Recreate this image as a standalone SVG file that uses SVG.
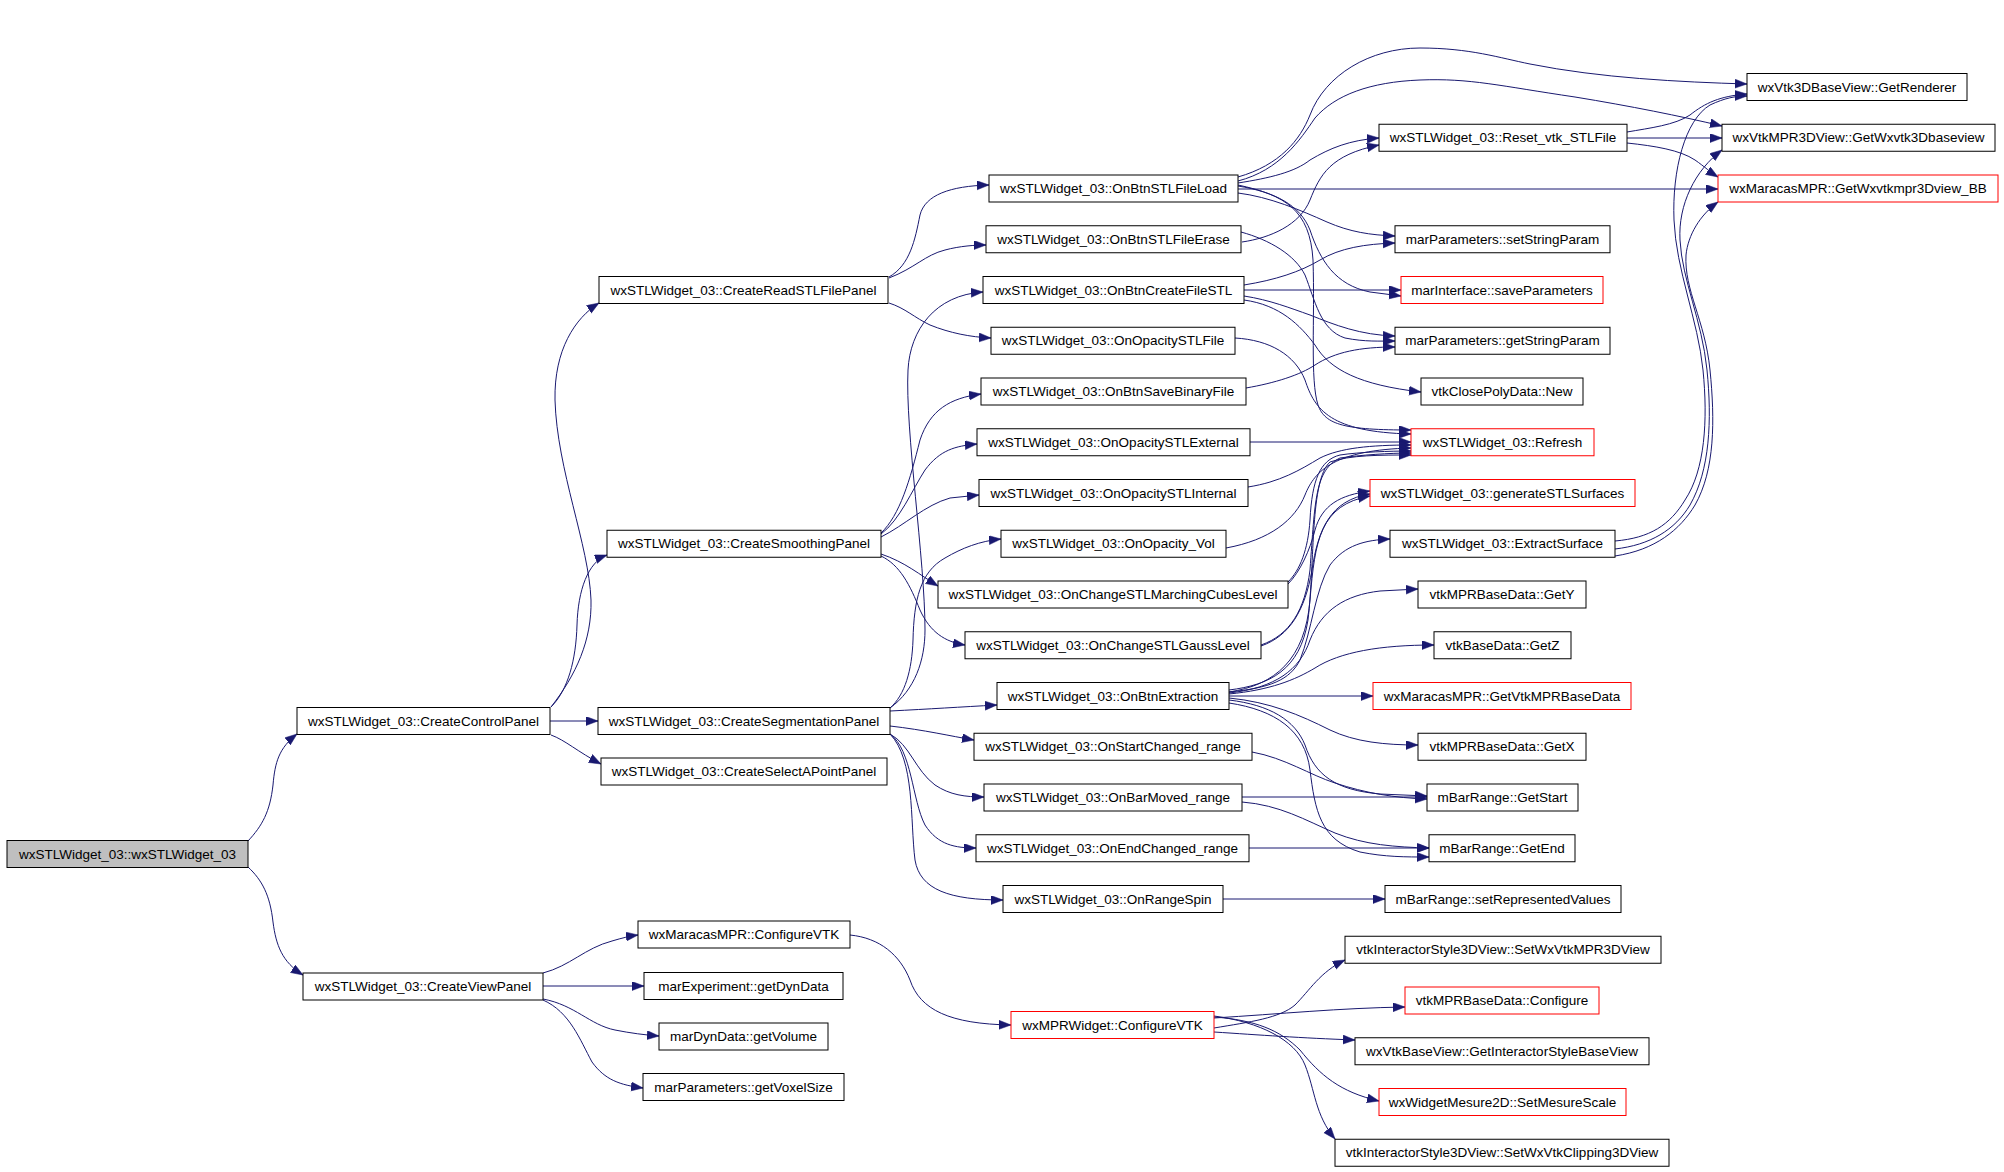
<svg xmlns="http://www.w3.org/2000/svg" width="2004" height="1172" viewBox="0 0 2004 1172">
<defs>
<style>
.node rect{fill:#ffffff;stroke:#000000;stroke-width:1}
.node rect.r{stroke:#ff0000}
.node rect.g{fill:#bfbfbf}
.node text{font-family:"Liberation Sans",Arial,Helvetica,sans-serif;font-size:13.5px;text-anchor:middle;fill:#000000}
#edges path{fill:none;stroke:#191970;stroke-width:1;marker-end:url(#a)}
</style>
<marker id="a" markerUnits="userSpaceOnUse" markerWidth="13" markerHeight="10" refX="12" refY="4.5" orient="auto"><path d="M0,0 L12,4.5 L0,9 Z" fill="#191970" stroke="#191970" stroke-width="0.5"/></marker>
</defs>
<rect x="0" y="0" width="2004" height="1172" fill="#ffffff"/>
<g id="edges">
<path d="M248,841 C262,826 270,812 273,785 C275,762 279,748 297,734"/>
<path d="M248,867 C262,880 270,895 273,922 C276,945 282,962 303,975"/>
<path d="M551,707 C576,675 592,640 591,600 C589,545 557,470 555,400 C554,350 575,318 599,303"/>
<path d="M551,707 C568,690 576,660 577,625 C578,590 588,562 607,555"/>
<path d="M550,721 L598,721"/>
<path d="M551,735 C565,740 578,752 601,764"/>
<path d="M543,973 C570,966 585,948 612,941 C622,938 630,936 638,935"/>
<path d="M543,986 L644,986"/>
<path d="M543,999 C575,1005 590,1025 615,1030 C630,1033 645,1035 659,1036"/>
<path d="M543,1000 C570,1012 580,1040 592,1062 C605,1080 620,1085 643,1088"/>
<path d="M850,935 C880,938 900,955 910,980 C920,1010 950,1024 1011,1025"/>
<path d="M889,277 C910,265 915,240 920,215 C925,195 950,186 989,185"/>
<path d="M889,278 C915,268 925,255 945,250 C960,246 975,245 986,245"/>
<path d="M889,303 C905,308 915,318 930,325 C950,333 970,337 991,338"/>
<path d="M890,708 C915,690 925,660 925,630 C925,560 905,430 908,370 C910,330 935,295 983,292"/>
<path d="M890,708 C905,695 912,670 913,640 C914,600 920,572 945,558 C962,548 980,541 1001,539"/>
<path d="M881,533 C900,515 910,480 920,440 C930,410 950,398 981,394"/>
<path d="M881,534 C900,520 912,490 925,470 C940,450 955,446 977,444"/>
<path d="M881,537 C905,525 925,505 950,498 L979,495"/>
<path d="M881,554 C905,562 920,575 938,586"/>
<path d="M881,556 C900,565 910,585 920,610 C930,632 945,642 965,645"/>
<path d="M890,711 C930,709 960,707 997,705"/>
<path d="M890,726 C925,730 950,736 974,740"/>
<path d="M890,734 C910,745 915,770 935,785 C950,795 965,797 984,797"/>
<path d="M890,734 C912,750 912,800 925,825 C938,845 955,848 976,848"/>
<path d="M890,734 C915,760 910,820 915,860 C920,890 950,900 1003,900"/>
<path d="M1238,177 C1280,165 1300,140 1310,115 C1325,75 1370,48 1420,48 C1470,48 1500,58 1530,64 C1600,78 1680,82 1747,84"/>
<path d="M1238,181 C1280,170 1300,140 1315,118 C1335,95 1370,82 1420,80 C1470,78 1500,86 1575,97 C1630,106 1680,116 1722,126"/>
<path d="M1238,183 C1270,178 1295,172 1310,160 C1330,148 1350,140 1379,138"/>
<path d="M1238,189 L1718,189"/>
<path d="M1238,193 C1270,197 1300,210 1327,222 C1350,232 1370,235 1395,236"/>
<path d="M1238,186 C1275,192 1300,205 1310,230 C1320,260 1335,285 1370,292 L1401,296"/>
<path d="M1238,185 C1285,195 1310,210 1313,260 C1315,320 1310,380 1318,405 C1325,425 1345,430 1411,430"/>
<path d="M1242,242 C1270,238 1300,225 1310,200 C1320,175 1330,155 1379,145"/>
<path d="M1241,232 C1270,240 1295,255 1305,275 C1315,300 1320,330 1345,338 C1365,342 1380,341 1395,341"/>
<path d="M1244,285 C1275,280 1300,272 1320,260 C1340,248 1365,244 1395,243"/>
<path d="M1244,290 L1401,290"/>
<path d="M1244,296 C1270,300 1290,308 1310,315 C1335,325 1360,335 1395,336"/>
<path d="M1244,300 C1280,305 1300,325 1315,345 C1330,370 1360,385 1421,392"/>
<path d="M1235,338 C1270,340 1295,355 1305,380 C1315,410 1330,432 1411,434"/>
<path d="M1246,388 C1275,383 1300,375 1315,365 C1335,352 1360,347 1395,347"/>
<path d="M1250,442 L1411,442"/>
<path d="M1248,487 C1280,482 1300,470 1320,458 C1340,448 1370,445 1411,445"/>
<path d="M1226,548 C1270,540 1295,520 1305,495 C1315,470 1335,450 1411,448"/>
<path d="M1288,582 C1300,570 1308,550 1310,520 C1312,480 1320,460 1340,455 C1360,452 1390,451 1411,451"/>
<path d="M1288,584 C1300,572 1310,550 1315,530 C1322,505 1340,495 1370,491"/>
<path d="M1261,645 C1290,635 1305,610 1310,570 C1315,500 1315,470 1340,458 C1360,455 1390,453 1411,453"/>
<path d="M1261,646 C1290,636 1305,610 1312,570 C1318,530 1330,500 1370,494"/>
<path d="M1229,690 C1270,685 1300,670 1308,620 C1315,560 1310,480 1330,462 C1350,455 1380,455 1411,455"/>
<path d="M1229,692 C1275,685 1305,660 1310,600 C1315,540 1320,505 1370,496"/>
<path d="M1229,692 C1270,688 1290,680 1300,660 C1312,630 1315,590 1330,565 C1345,545 1365,540 1390,539"/>
<path d="M1229,693 C1275,688 1300,670 1310,640 C1322,610 1345,595 1380,591 L1418,589"/>
<path d="M1229,694 C1270,690 1295,680 1315,668 C1340,652 1380,645 1434,645"/>
<path d="M1229,696 L1373,696"/>
<path d="M1229,698 C1270,702 1300,715 1330,730 C1355,742 1385,745 1418,745"/>
<path d="M1229,700 C1270,705 1295,720 1305,745 C1315,775 1335,790 1380,794 L1427,796"/>
<path d="M1229,703 C1275,710 1305,730 1310,770 C1315,810 1320,840 1360,852 C1385,857 1405,857 1429,857"/>
<path d="M1252,752 C1285,758 1310,775 1335,783 C1365,793 1395,798 1427,799"/>
<path d="M1242,797 L1427,797"/>
<path d="M1242,802 C1280,805 1305,820 1335,833 C1365,845 1395,847 1429,848"/>
<path d="M1249,848 L1429,848"/>
<path d="M1223,899 L1385,899"/>
<path d="M1627,132 C1650,128 1675,125 1690,115 C1705,103 1720,96 1747,94"/>
<path d="M1627,138 L1722,138"/>
<path d="M1627,143 C1655,146 1680,150 1695,160 C1705,167 1710,172 1718,177"/>
<path d="M1615,541 C1650,538 1670,525 1685,500 C1705,470 1708,420 1703,370 C1698,320 1676,270 1674,220 C1672,170 1685,120 1710,105 C1725,98 1735,96 1747,96"/>
<path d="M1615,549 C1650,545 1675,530 1690,505 C1710,470 1712,420 1707,370 C1702,320 1682,280 1680,240 C1678,205 1695,170 1722,150"/>
<path d="M1615,556 C1655,550 1680,530 1695,505 C1715,470 1715,420 1710,370 C1705,320 1684,290 1686,255 C1688,235 1700,215 1718,202"/>
<path d="M1214,1028 C1250,1022 1280,1018 1295,1005 C1310,990 1320,972 1345,960"/>
<path d="M1214,1018 C1280,1014 1340,1008 1405,1007"/>
<path d="M1214,1032 C1260,1035 1300,1038 1355,1040"/>
<path d="M1214,1017 C1255,1020 1280,1030 1300,1050 C1320,1075 1340,1092 1379,1101"/>
<path d="M1214,1016 C1260,1022 1295,1040 1305,1065 C1315,1090 1315,1115 1335,1139"/>
</g>
<g id="n_root" class="node"><rect class="g" x="7" y="840.5" width="241" height="27"/><text x="127.5" y="858.7">wxSTLWidget_03::wxSTLWidget_03</text></g>
<g id="n_controlpanel" class="node"><rect x="297" y="707.5" width="253" height="27"/><text x="423.5" y="725.7">wxSTLWidget_03::CreateControlPanel</text></g>
<g id="n_viewpanel" class="node"><rect x="303" y="973" width="240" height="27"/><text x="423" y="991.2">wxSTLWidget_03::CreateViewPanel</text></g>
<g id="n_readstl" class="node"><rect x="599" y="276.5" width="289" height="27"/><text x="743.5" y="294.7">wxSTLWidget_03::CreateReadSTLFilePanel</text></g>
<g id="n_smoothing" class="node"><rect x="607" y="530.25" width="274" height="27"/><text x="744" y="548.45">wxSTLWidget_03::CreateSmoothingPanel</text></g>
<g id="n_segmentation" class="node"><rect x="598" y="707.5" width="292" height="27"/><text x="744" y="725.7">wxSTLWidget_03::CreateSegmentationPanel</text></g>
<g id="n_selectapoint" class="node"><rect x="601" y="758" width="286" height="27"/><text x="744" y="776.2">wxSTLWidget_03::CreateSelectAPointPanel</text></g>
<g id="n_maracasconfigure" class="node"><rect x="638" y="921" width="212" height="27"/><text x="744" y="939.2">wxMaracasMPR::ConfigureVTK</text></g>
<g id="n_getdyndata" class="node"><rect x="644" y="972.5" width="199" height="27"/><text x="743.5" y="990.7">marExperiment::getDynData</text></g>
<g id="n_getvolume" class="node"><rect x="659" y="1023" width="169" height="27"/><text x="743.5" y="1041.2">marDynData::getVolume</text></g>
<g id="n_getvoxelsize" class="node"><rect x="643" y="1073.5" width="201" height="27"/><text x="743.5" y="1091.7">marParameters::getVoxelSize</text></g>
<g id="n_mprconfigure" class="node"><rect class="r" x="1011" y="1011.5" width="203" height="27"/><text x="1112.5" y="1029.7">wxMPRWidget::ConfigureVTK</text></g>
<g id="n_fileload" class="node"><rect x="989" y="175" width="249" height="27"/><text x="1113.5" y="193.2">wxSTLWidget_03::OnBtnSTLFileLoad</text></g>
<g id="n_fileerase" class="node"><rect x="986" y="225.75" width="255" height="27"/><text x="1113.5" y="243.95">wxSTLWidget_03::OnBtnSTLFileErase</text></g>
<g id="n_createfilestl" class="node"><rect x="983" y="276.5" width="261" height="27"/><text x="1113.5" y="294.7">wxSTLWidget_03::OnBtnCreateFileSTL</text></g>
<g id="n_opacitystlfile" class="node"><rect x="991" y="327.25" width="244" height="27"/><text x="1113" y="345.45">wxSTLWidget_03::OnOpacitySTLFile</text></g>
<g id="n_savebinary" class="node"><rect x="981" y="378" width="265" height="27"/><text x="1113.5" y="396.2">wxSTLWidget_03::OnBtnSaveBinaryFile</text></g>
<g id="n_external" class="node"><rect x="977" y="428.75" width="273" height="27"/><text x="1113.5" y="446.95">wxSTLWidget_03::OnOpacitySTLExternal</text></g>
<g id="n_internal" class="node"><rect x="979" y="479.5" width="269" height="27"/><text x="1113.5" y="497.7">wxSTLWidget_03::OnOpacitySTLInternal</text></g>
<g id="n_vol" class="node"><rect x="1001" y="530.25" width="225" height="27"/><text x="1113.5" y="548.45">wxSTLWidget_03::OnOpacity_Vol</text></g>
<g id="n_marching" class="node"><rect x="938" y="581" width="350" height="27"/><text x="1113" y="599.2">wxSTLWidget_03::OnChangeSTLMarchingCubesLevel</text></g>
<g id="n_gauss" class="node"><rect x="965" y="631.75" width="296" height="27"/><text x="1113" y="649.95">wxSTLWidget_03::OnChangeSTLGaussLevel</text></g>
<g id="n_extraction" class="node"><rect x="997" y="682.5" width="232" height="27"/><text x="1113" y="700.7">wxSTLWidget_03::OnBtnExtraction</text></g>
<g id="n_startchanged" class="node"><rect x="974" y="733.25" width="278" height="27"/><text x="1113" y="751.45">wxSTLWidget_03::OnStartChanged_range</text></g>
<g id="n_barmoved" class="node"><rect x="984" y="784" width="258" height="27"/><text x="1113" y="802.2">wxSTLWidget_03::OnBarMoved_range</text></g>
<g id="n_endchanged" class="node"><rect x="976" y="834.75" width="273" height="27"/><text x="1112.5" y="852.95">wxSTLWidget_03::OnEndChanged_range</text></g>
<g id="n_rangespin" class="node"><rect x="1003" y="885.5" width="220" height="27"/><text x="1113" y="903.7">wxSTLWidget_03::OnRangeSpin</text></g>
<g id="n_reset" class="node"><rect x="1379" y="124.25" width="248" height="27"/><text x="1503" y="142.45">wxSTLWidget_03::Reset_vtk_STLFile</text></g>
<g id="n_setstringparam" class="node"><rect x="1395" y="225.75" width="215" height="27"/><text x="1502.5" y="243.95">marParameters::setStringParam</text></g>
<g id="n_saveparameters" class="node"><rect class="r" x="1401" y="276.5" width="202" height="27"/><text x="1502" y="294.7">marInterface::saveParameters</text></g>
<g id="n_getstringparam" class="node"><rect x="1395" y="327.25" width="215" height="27"/><text x="1502.5" y="345.45">marParameters::getStringParam</text></g>
<g id="n_closepolynew" class="node"><rect x="1421" y="378" width="162" height="27"/><text x="1502" y="396.2">vtkClosePolyData::New</text></g>
<g id="n_refresh" class="node"><rect class="r" x="1411" y="428.75" width="183" height="27"/><text x="1502.5" y="446.95">wxSTLWidget_03::Refresh</text></g>
<g id="n_generate" class="node"><rect class="r" x="1370" y="479.5" width="265" height="27"/><text x="1502.5" y="497.7">wxSTLWidget_03::generateSTLSurfaces</text></g>
<g id="n_extractsurface" class="node"><rect x="1390" y="530.25" width="225" height="27"/><text x="1502.5" y="548.45">wxSTLWidget_03::ExtractSurface</text></g>
<g id="n_gety" class="node"><rect x="1418" y="581" width="168" height="27"/><text x="1502" y="599.2">vtkMPRBaseData::GetY</text></g>
<g id="n_getz" class="node"><rect x="1434" y="631.75" width="137" height="27"/><text x="1502.5" y="649.95">vtkBaseData::GetZ</text></g>
<g id="n_getvtkmprbasedata" class="node"><rect class="r" x="1373" y="682.5" width="258" height="27"/><text x="1502" y="700.7">wxMaracasMPR::GetVtkMPRBaseData</text></g>
<g id="n_getx" class="node"><rect x="1418" y="733.25" width="168" height="27"/><text x="1502" y="751.45">vtkMPRBaseData::GetX</text></g>
<g id="n_getstart" class="node"><rect x="1427" y="784" width="151" height="27"/><text x="1502.5" y="802.2">mBarRange::GetStart</text></g>
<g id="n_getend" class="node"><rect x="1429" y="834.75" width="146" height="27"/><text x="1502" y="852.95">mBarRange::GetEnd</text></g>
<g id="n_setrepresented" class="node"><rect x="1385" y="885.5" width="236" height="27"/><text x="1503" y="903.7">mBarRange::setRepresentedValues</text></g>
<g id="n_setwxvtkmpr3dview" class="node"><rect x="1345" y="936.25" width="316" height="27"/><text x="1503" y="954.45">vtkInteractorStyle3DView::SetWxVtkMPR3DView</text></g>
<g id="n_mprbaseconfigure" class="node"><rect class="r" x="1405" y="987" width="194" height="27"/><text x="1502" y="1005.2">vtkMPRBaseData::Configure</text></g>
<g id="n_getinteractorstyle" class="node"><rect x="1355" y="1037.75" width="294" height="27"/><text x="1502" y="1055.95">wxVtkBaseView::GetInteractorStyleBaseView</text></g>
<g id="n_setmesurescale" class="node"><rect class="r" x="1379" y="1088.5" width="247" height="27"/><text x="1502.5" y="1106.7">wxWidgetMesure2D::SetMesureScale</text></g>
<g id="n_setclipping" class="node"><rect x="1335" y="1139.25" width="334" height="27"/><text x="1502" y="1157.45">vtkInteractorStyle3DView::SetWxVtkClipping3DView</text></g>
<g id="n_getrenderer" class="node"><rect x="1747" y="73.5" width="220" height="27"/><text x="1857" y="91.7">wxVtk3DBaseView::GetRenderer</text></g>
<g id="n_getwxvtk3dbaseview" class="node"><rect x="1722" y="124.25" width="273" height="27"/><text x="1858.5" y="142.45">wxVtkMPR3DView::GetWxvtk3Dbaseview</text></g>
<g id="n_getwxvtkmpr3dview_bb" class="node"><rect class="r" x="1718" y="175" width="280" height="27"/><text x="1858" y="193.2">wxMaracasMPR::GetWxvtkmpr3Dview_BB</text></g>
</svg>
